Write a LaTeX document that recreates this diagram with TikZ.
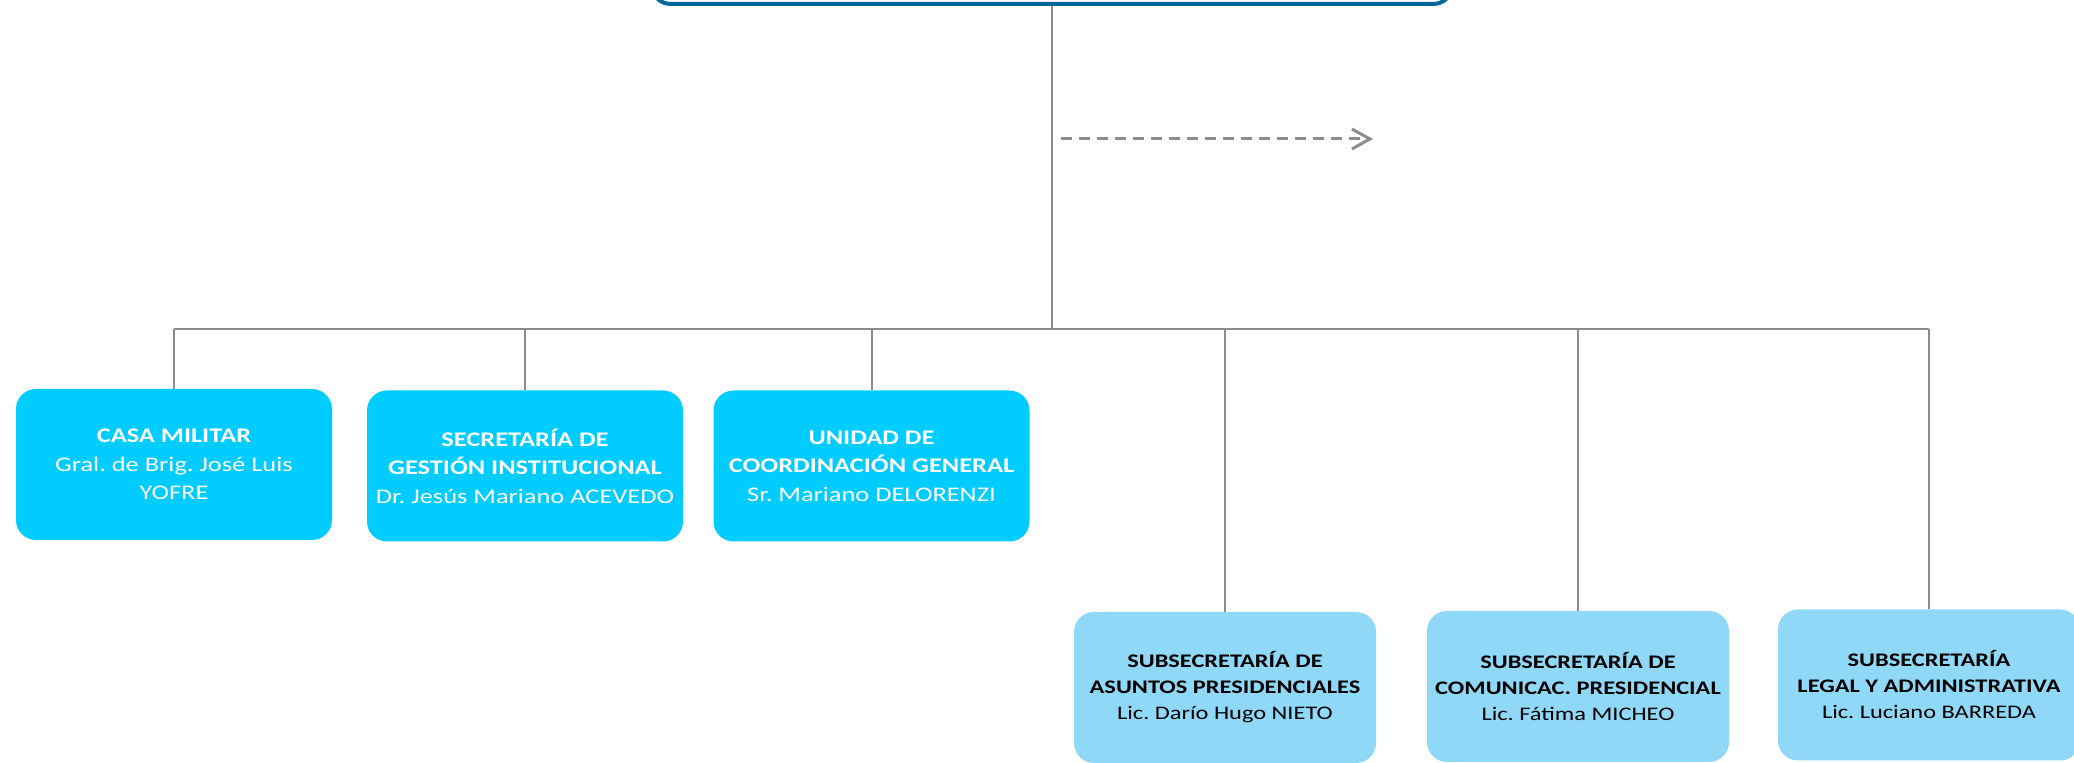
\documentclass[tikz,border=0pt]{standalone}
\usepackage{fontspec}
\setmainfont{Carlito}[FakeStretch=1.27]
\usetikzlibrary{arrows.meta}
\definecolor{topblue}{HTML}{006699}
\definecolor{cyanbox}{HTML}{00CCFF}
\definecolor{lightbox}{HTML}{8FD8F8}
\definecolor{linegray}{HTML}{8C8C8C}
\frenchspacing

\begin{document}
\begin{tikzpicture}[
    x=0.5pt, y=-0.5pt,
    every node/.style={font=\fontsize{10.4}{14.2}\selectfont},
    topbox/.style={rectangle, draw=topblue, line width=2pt, fill=white, rounded corners=10pt, minimum width=401pt, minimum height=80pt},
    unitbox/.style={rectangle, fill=cyanbox, text=white, rounded corners=10pt, align=center, minimum width=158pt, minimum height=75.5pt},
    subbox/.style={rectangle, fill=lightbox, text=black, rounded corners=10pt, align=center, minimum width=151pt, minimum height=75.5pt, font=\fontsize{9.6}{13}\selectfont},
    conn/.style={draw=linegray, line width=1pt},
    dasharrow/.style={draw=linegray, line width=1.5pt, dash pattern=on 5.5pt off 3.5pt, -{Straight Barb[length=9pt, width=10pt]}}
  ]
  \path[use as bounding box, clip] (0,0) rectangle (2074,763);

  \node[topbox] (secgral) at (1052,-76) {};

  \node[unitbox] (casa) at (174,464.5) {\textbf{CASA MILITAR}\\
  Gral. de Brig. José Luis\\ YOFRE};

  \node[unitbox] (sgi) at (525,466) {\textbf{SECRETARÍA DE}\\
  \textbf{GESTIÓN INSTITUCIONAL}\\ Dr. Jesús Mariano ACEVEDO};

  \node[unitbox] (ucg) at (871.5,466) {\textbf{UNIDAD DE}\\
  \textbf{COORDINACIÓN GENERAL}\\ Sr. Mariano DELORENZI};

  \node[subbox] (sap) at (1225,687.5) {\textbf{SUBSECRETARÍA DE}\\
  \textbf{ASUNTOS PRESIDENCIALES}\\ Lic. Darío Hugo NIETO};

  \node[subbox] (scp) at (1578,686.5) {\textbf{SUBSECRETARÍA DE}\\
  \textbf{COMUNICAC. PRESIDENCIAL}\\ Lic. Fátima MICHEO};

  \node[subbox] (sla) at (1929,685) {\textbf{SUBSECRETARÍA}\\
  \textbf{LEGAL Y ADMINISTRATIVA}\\ Lic. Luciano BARREDA};

  \coordinate (bus) at (1052,329);
  \coordinate (dfrom) at (1061,139);
  \coordinate (dto) at (1373,139);

  \draw[conn] (secgral.south) -- (bus);
  \draw[conn] (casa.north |- bus) -- (sla.north |- bus);
  \foreach \n in {casa,sgi,ucg,sap,scp,sla}
    \draw[conn] (\n.north |- bus) -- (\n.north);

  \draw[dasharrow] (dfrom) -- (dto);

\end{tikzpicture}
\end{document}
